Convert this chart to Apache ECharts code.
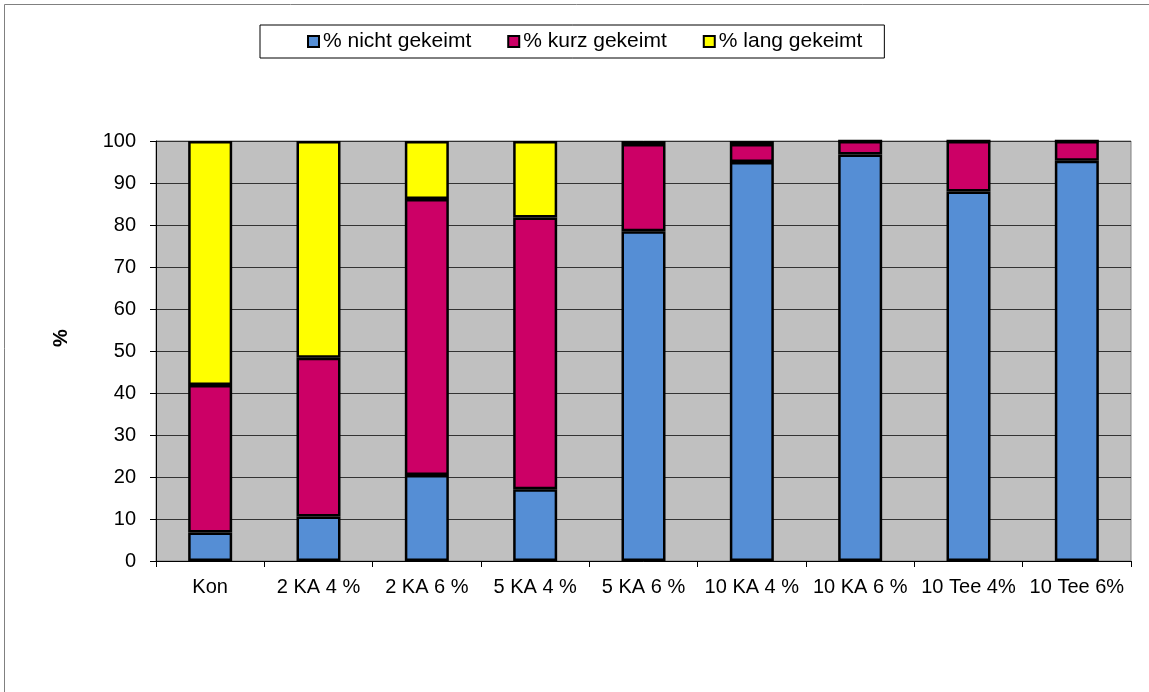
<!DOCTYPE html>
<html>
<head>
<meta charset="utf-8">
<script src="https://cdn.jsdelivr.net/npm/echarts@6/dist/echarts.min.js"></script>
<style>
  html, body { margin: 0; padding: 0; background: #fff; }
  #chart { width: 1149px; height: 692px; }
</style>
</head>
<body>
<div id="chart"></div>
<script>
// Keimungsanteile je Behandlung (gestapelt auf 100 %)
const categories = ['Kon', '2 KA 4 %', '2 KA 6 %', '5 KA 4 %', '5 KA 6 %', '10 KA 4 %', '10 KA 6 %', '10 Tee 4%', '10 Tee 6%'];
const nichtGekeimt = [6.8, 10.6, 20.5, 17.1, 78.5, 95.0, 96.8, 88.0, 95.3];
const kurzGekeimt  = [35.1, 37.8, 65.7, 64.7, 20.8, 4.3, 3.2, 12.0, 4.7];
const langGekeimt  = [58.1, 51.6, 13.8, 18.2, 0.7, 0.7, 0.0, 0.0, 0.0];
const yTicks = [0, 10, 20, 30, 40, 50, 60, 70, 80, 90, 100];

const font = 'Liberation Sans, Arial, sans-serif';
const chart = echarts.init(document.getElementById('chart'));

function barSeries(name, data, color) {
  return {
    name: name,
    type: 'bar',
    stack: 'total',
    data: data,
    barWidth: 44,
    itemStyle: { color: color, borderColor: '#000', borderWidth: 2.5 }
  };
}

chart.setOption({
  animation: false,
  backgroundColor: '#fff',
  graphic: [
    {
      type: 'polyline',
      shape: { points: [[4.5, 692], [4.5, 4.5], [1149, 4.5]] },
      style: { stroke: '#808080', lineWidth: 1, fill: null }
    },
    {
      type: 'text',
      x: 61, y: 338,
      rotation: Math.PI / 2,
      style: {
        text: '%', fill: '#000',
        font: 'bold 20px ' + font,
        textAlign: 'center', textVerticalAlign: 'middle'
      }
    }
  ],
  legend: {
    top: 25,
    left: 260,
    borderColor: '#000',
    borderWidth: 1,
    padding: [6, 22, 6, 47],
    itemGap: 36,
    itemWidth: 11,
    itemHeight: 11,
    icon: 'rect',
    textStyle: { fontFamily: font, fontSize: 21, color: '#000', padding: [0, 0, 0, -1] },
    itemStyle: { borderColor: '#000', borderWidth: 2 },
    data: ['% nicht gekeimt', '% kurz gekeimt', '% lang gekeimt']
  },
  grid: {
    left: 156, right: 18, top: 141, bottom: 131,
    show: true,
    backgroundColor: '#C0C0C0',
    borderColor: '#808080',
    borderWidth: 1
  },
  xAxis: {
    type: 'category',
    data: categories,
    axisLine: { lineStyle: { color: '#000', width: 1 } },
    axisTick: { show: true, alignWithLabel: false, length: 6, lineStyle: { color: '#000' } },
    axisLabel: { fontFamily: font, fontSize: 20, color: '#000', margin: 16, interval: 0 }
  },
  yAxis: {
    type: 'value',
    min: yTicks[0],
    max: yTicks[yTicks.length - 1],
    interval: 10,
    axisLine: { show: true, lineStyle: { color: '#000', width: 1 } },
    axisTick: { show: true, length: 6, lineStyle: { color: '#000' } },
    axisLabel: { fontFamily: font, fontSize: 20, color: '#000', margin: 20 },
    splitLine: { show: true, lineStyle: { color: '#333', width: 1 } }
  },
  series: [
    barSeries('% nicht gekeimt', nichtGekeimt, '#558ED5'),
    barSeries('% kurz gekeimt', kurzGekeimt, '#CC0066'),
    barSeries('% lang gekeimt', langGekeimt, '#FFFF00')
  ]
});
</script>
</body>
</html>
